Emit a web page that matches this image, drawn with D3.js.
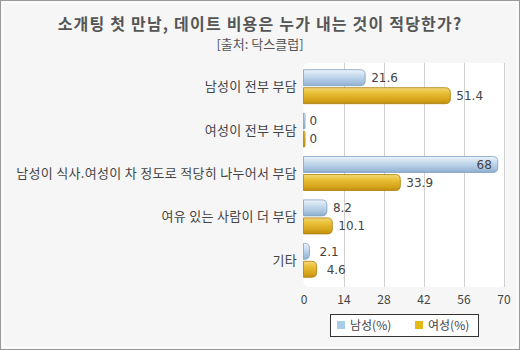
<!DOCTYPE html>
<html><head><meta charset="utf-8">
<script src="https://cdn.jsdelivr.net/npm/d3@7"></script>
<style>html,body{margin:0;padding:0;background:#fff}</style>
</head><body>
<script>
const categories = ["남성이 전부 부담","여성이 전부 부담","남성이 식사.여성이 차 정도로 적당히 나누어서 부담","여유 있는 사람이 더 부담","기타"];
const male = [21.6, 0, 68, 8.2, 2.1];
const female = [51.4, 0, 33.9, 10.1, 4.6];
const seriesNames = ["남성(%)","여성(%)"];
const ticks = [0,14,28,42,56,70];
const title = "소개팅 첫 만남, 데이트 비용은 누가 내는 것이 적당한가?";
const subtitle = "[출처: 닥스클럽]";

const W=520,H=350;
const font = "'Noto Sans CJK KR','Noto Sans',sans-serif";
const numFont = "'DejaVu Sans',sans-serif";
const svg = d3.select("body").append("svg").attr("width",W).attr("height",H);
const defs = svg.append("defs");
function grad(id, stops){
  const g=defs.append("linearGradient").attr("id",id).attr("x1",0).attr("y1",0).attr("x2",0).attr("y2",1);
  stops.forEach(s=>g.append("stop").attr("offset",s[0]).attr("stop-color",s[1]));
}
grad("gBlue",[[0,"#eef4fa"],[0.35,"#c9dcee"],[0.75,"#a6c2de"],[1,"#8eaed0"]]);
grad("gGold",[[0,"#f3d77a"],[0.3,"#eac23a"],[0.75,"#d7a41a"],[1,"#c08e10"]]);

svg.append("rect").attr("x",0.5).attr("y",0.5).attr("width",W-1).attr("height",H-1)
  .attr("fill","#f6f6f6").attr("stroke","#9a9a9a");
svg.append("rect").attr("x",2.5).attr("y",2.5).attr("width",W-5).attr("height",H-5)
  .attr("fill","none").attr("stroke","#ffffff");

svg.append("text").attr("x",260).attr("y",30).attr("text-anchor","middle")
  .attr("font-family",font).attr("font-size",16).attr("font-weight","bold").attr("fill","#555")
  .attr("letter-spacing",1.2).text(title);
svg.append("text").attr("x",260).attr("y",49).attr("text-anchor","middle")
  .attr("font-family",font).attr("font-size",13).attr("fill","#555").text(subtitle);

const x = d3.scaleLinear().domain([0,70]).range([303.5,503.5]);
const y = d3.scaleBand().domain(categories).range([65,282]);

svg.append("rect").attr("x",303.5).attr("y",63).attr("width",202).attr("height",224)
  .attr("rx",5).attr("fill","#ffffff");

svg.selectAll(".grid").data(ticks.slice(1)).enter().append("line")
  .attr("x1",d=>Math.round(x(d))+0.5).attr("x2",d=>Math.round(x(d))+0.5)
  .attr("y1",63).attr("y2",287).attr("stroke","#d0d0d0");

const axis = d3.axisBottom(x).tickValues(ticks).tickSize(0).tickPadding(0);
const ax = svg.append("g").attr("transform","translate(0,295)").call(axis);
ax.select(".domain").remove();
ax.selectAll("text").attr("font-family",font).attr("font-size",12).attr("fill","#444").attr("dy","0.71em");

svg.selectAll(".cat").data(categories).enter().append("text")
  .attr("x",297).attr("y",d=>y(d)+y.bandwidth()/2).attr("dy","0.35em")
  .attr("text-anchor","end").attr("font-family",font).attr("font-size",13).attr("fill","#444")
  .attr("letter-spacing",0.3).text(d=>d);

function barPath(x0,x1,y0,h){
  const w=x1-x0; const r=Math.min(5,h/2,Math.max(w,0));
  return `M${x0},${y0}H${x1-r}Q${x1},${y0} ${x1},${y0+r}V${y0+h-r}Q${x1},${y0+h} ${x1-r},${y0+h}H${x0}Z`;
}
const bh=16;
const series=[{vals:male,fill:"url(#gBlue)",stroke:"#7f9fc0",off:-17},{vals:female,fill:"url(#gGold)",stroke:"#a9800a",off:1}];
series.forEach(s=>{
  const g=svg.append("g");
  g.selectAll("path").data(categories).enter().append("path")
    .attr("d",(d,i)=>{const v=s.vals[i]; const x1=v>0?Math.max(x(v),x(0)+4):x(0)+1.5; return barPath(x(0),x1,y(d)+y.bandwidth()/2+s.off,bh);})
    .attr("fill",s.fill).attr("stroke",s.stroke).attr("stroke-width",0.8);
  g.selectAll("text").data(categories).enter().append("text")
    .attr("x",(d,i)=>{const v=s.vals[i]; return v>=65? x(v)-6 : x(v)+6+(v<5&&v>0?4:0);})
    .attr("text-anchor",(d,i)=>s.vals[i]>=65?"end":"start")
    .attr("y",(d,i)=>y(d)+y.bandwidth()/2+s.off+bh/2).attr("dy","0.35em")
    .attr("font-family",numFont).attr("font-size",12).attr("fill","#444")
    .text((d,i)=>s.vals[i]);
});

const lg=svg.append("g");
lg.append("rect").attr("x",330.5).attr("y",314.5).attr("width",148).attr("height",22)
  .attr("fill","#ffffff").attr("stroke","#333");
const legendColors=["#a8cde8","#e5b81a"];
seriesNames.forEach((n,i)=>{
  const lx=[337,415][i];
  lg.append("rect").attr("x",lx).attr("y",321).attr("width",8).attr("height",8).attr("fill",legendColors[i]);
  lg.append("text").attr("x",lx+13).attr("y",325.5).attr("dy","0.35em")
    .attr("font-family",font).attr("font-size",12).attr("fill","#444").text(n);
});
</script>
</body></html>
